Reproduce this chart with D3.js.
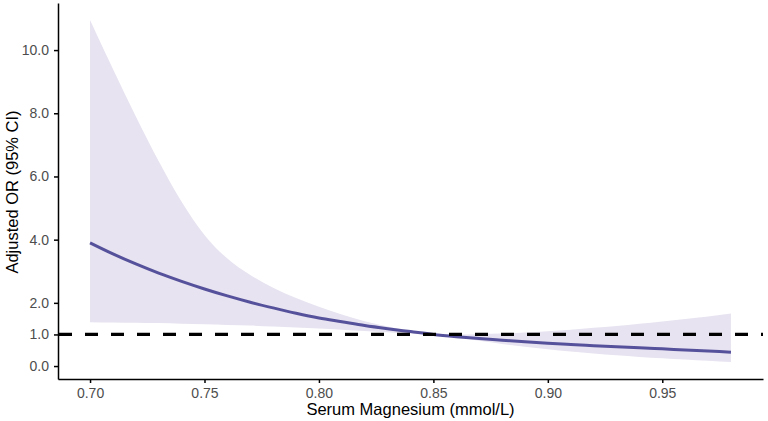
<!DOCTYPE html>
<html>
<head>
<meta charset="utf-8">
<script src="https://cdn.jsdelivr.net/npm/d3@7"></script>
<style>
  body { margin: 0; background: #fff; }
  svg { display: block; font-family: "Liberation Sans", Arial, sans-serif; }
</style>
</head>
<body>
<div id="chart"></div>
<script>
// serum magnesium values (mmol/L)
var magnesium = [0.70, 0.71, 0.72, 0.73, 0.74, 0.75, 0.76, 0.77, 0.78, 0.79,
                 0.80, 0.81, 0.82, 0.83, 0.84, 0.85, 0.86, 0.87, 0.88, 0.89,
                 0.90, 0.91, 0.92, 0.93, 0.94, 0.95, 0.96, 0.97, 0.98];
// adjusted odds ratio
var oddsRatio = [3.90, 3.55, 3.23, 2.94, 2.68, 2.44, 2.22, 2.02, 1.84, 1.67,
                 1.52, 1.40, 1.28, 1.18, 1.09, 1.00, 0.93, 0.87, 0.82, 0.77,
                 0.72, 0.68, 0.645, 0.61, 0.58, 0.545, 0.51, 0.475, 0.44];
// 95% CI bounds
var ciLower = [1.39, 1.38, 1.37, 1.36, 1.34, 1.32, 1.30, 1.28, 1.25, 1.22,
               1.19, 1.15, 1.11, 1.07, 1.03, 0.99, 0.90, 0.80, 0.70, 0.61,
               0.53, 0.46, 0.40, 0.34, 0.29, 0.25, 0.21, 0.17, 0.13];
var ciUpper = [10.95, 9.40, 7.90, 6.48, 5.20, 4.15, 3.40, 2.88, 2.48, 2.15,
               1.88, 1.63, 1.42, 1.25, 1.11, 1.01, 1.00, 1.01, 1.03, 1.06,
               1.10, 1.15, 1.21, 1.27, 1.34, 1.41, 1.49, 1.57, 1.66];

var xTicks = [0.70, 0.75, 0.80, 0.85, 0.90, 0.95];
var yTicks = [0, 1, 2, 4, 6, 8, 10];
var refLine = 1;

var width = 768, height = 421;
var plotLeft = 58, plotRight = 763, plotTop = 3, plotBottom = 379;

var rows = magnesium.map(function (m, i) {
  return {x: m, or: oddsRatio[i], lo: ciLower[i], hi: ciUpper[i]};
});

var svg = d3.select("#chart")
  .append("svg")
    .attr("width", width)
    .attr("height", height);

var x = d3.scaleLinear().domain([0.686, 0.994]).range([plotLeft, plotRight]);
var y = d3.scaleLinear().domain([-0.41, 11.49]).range([plotBottom, plotTop]);

var band = d3.area()
  .x(function (d) { return x(d.x); })
  .y0(function (d) { return y(d.lo); })
  .y1(function (d) { return y(d.hi); })
  .curve(d3.curveMonotoneX);

var line = d3.line()
  .x(function (d) { return x(d.x); })
  .y(function (d) { return y(d.or); })
  .curve(d3.curveMonotoneX);

svg.append("path")
  .datum(rows)
  .attr("d", band)
  .attr("fill", "#e7e3f0");

svg.append("path")
  .datum(rows)
  .attr("d", line)
  .attr("fill", "none")
  .attr("stroke", "#56519b")
  .attr("stroke-width", 3);

// reference line at OR = 1
svg.append("line")
  .attr("x1", plotLeft + 1)
  .attr("x2", plotRight)
  .attr("y1", y(refLine))
  .attr("y2", y(refLine))
  .attr("stroke", "#000")
  .attr("stroke-width", 3.2)
  .attr("stroke-dasharray", "13,13");

function styleAxis(g) {
  g.attr("font-size", 14)
   .attr("font-family", "'Liberation Sans', Arial, sans-serif");
  g.selectAll("path, line").attr("stroke", "#000").attr("stroke-width", 1.5);
  g.selectAll("text").attr("fill", "#4d4d4d");
}

svg.append("g")
  .attr("transform", "translate(0," + plotBottom + ")")
  .call(d3.axisBottom(x).tickValues(xTicks).tickFormat(d3.format(".2f"))
    .tickSizeInner(4).tickSizeOuter(0).tickPadding(5))
  .call(styleAxis);

svg.append("g")
  .attr("transform", "translate(" + plotLeft + ",0)")
  .call(d3.axisLeft(y).tickValues(yTicks).tickFormat(d3.format(".1f"))
    .tickSizeInner(4).tickSizeOuter(0).tickPadding(5))
  .call(styleAxis);

svg.append("text")
  .attr("x", (plotLeft + plotRight) / 2)
  .attr("y", 415)
  .attr("text-anchor", "middle")
  .attr("font-size", 16.5)
  .attr("fill", "#000")
  .text("Serum Magnesium (mmol/L)");

svg.append("text")
  .attr("transform", "translate(18,192) rotate(-90)")
  .attr("text-anchor", "middle")
  .attr("font-size", 16.5)
  .attr("fill", "#000")
  .text("Adjusted OR (95% CI)");
</script>
</body>
</html>
